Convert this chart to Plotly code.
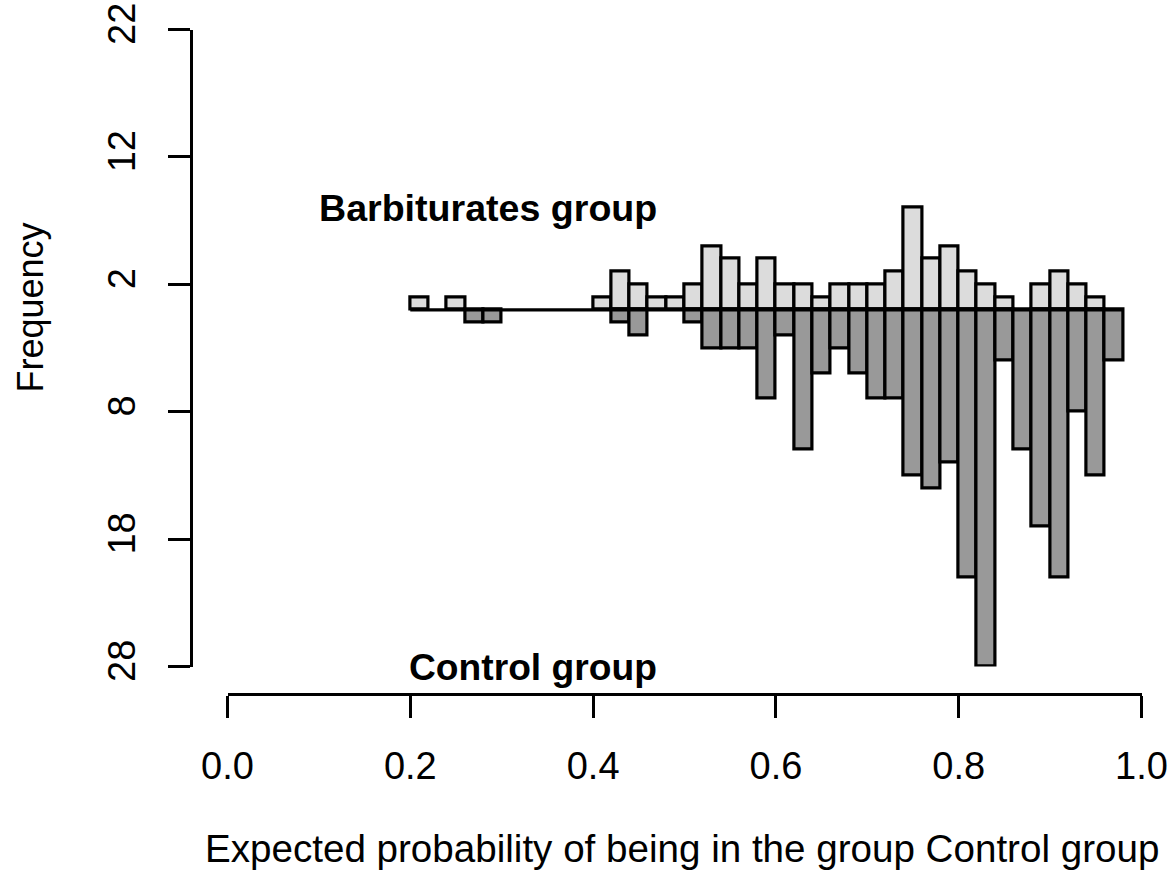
import plotly.graph_objects as go

# Histogram bins: left edges, common width
bin_width = 0.02
bin_left = [round(0.20 + i * bin_width, 2) for i in range(39)]

# Counts per bin for each group
barbiturates_counts = [1, 0, 1, 0, 0, 0, 0, 0, 0, 0,
                       1, 3, 2, 1, 1, 2, 5, 4, 2, 4,
                       2, 2, 1, 2, 2, 2, 3, 8, 4, 5,
                       3, 2, 1, 0, 2, 3, 2, 1, 0]
control_counts = [0, 0, 0, 1, 1, 0, 0, 0, 0, 0,
                  0, 1, 2, 0, 0, 1, 3, 3, 3, 7,
                  2, 11, 5, 3, 5, 7, 7, 13, 14, 12,
                  21, 28, 4, 11, 17, 21, 8, 13, 4]

# Axis ticks
x_tickvals = [0.0, 0.2, 0.4, 0.6, 0.8, 1.0]
x_ticktext = ["0.0", "0.2", "0.4", "0.6", "0.8", "1.0"]
y_tickvals = [22, 12, 2, -8, -18, -28]
y_ticktext = ["22", "12", "2", "8", "18", "28"]

W, H = 1168, 872
FONT = "Liberation Sans, Arial, sans-serif"
TICK_FS = 38
LW = 3.2

centers = [round(b + bin_width / 2, 3) for b in bin_left]
up = [c if c > 0 else None for c in barbiturates_counts]
down = [-c if c > 0 else None for c in control_counts]

fig = go.Figure()
fig.add_trace(go.Bar(
    x=centers, y=up, width=bin_width, base=0,
    marker=dict(color="#dcdcdc", line=dict(color="black", width=LW)),
    cliponaxis=False, showlegend=False, hoverinfo="x+y",
))
fig.add_trace(go.Bar(
    x=centers, y=down, width=bin_width, base=0,
    marker=dict(color="#999999", line=dict(color="black", width=LW)),
    cliponaxis=False, showlegend=False, hoverinfo="x+y",
))
# Zero line across the binned range
fig.add_trace(go.Scatter(
    x=[bin_left[0], bin_left[-1] + bin_width], y=[0, 0],
    mode="lines", line=dict(color="black", width=LW),
    cliponaxis=False, showlegend=False, hoverinfo="skip",
))

# Pixel geometry of the axes
x0_px, x1_px = 227.5, 1141.5
y_top_px, y_bot_px = 29.5, 666.5
xaxis_line_px = 694
yaxis_line_px = 191

fig.update_layout(
    template="none",
    width=W, height=H, autosize=False,
    margin=dict(l=0, r=0, t=0, b=0, pad=0),
    paper_bgcolor="white", plot_bgcolor="white",
    barmode="overlay", bargap=0,
    font=dict(family=FONT, size=TICK_FS, color="black"),
    xaxis=dict(
        domain=[x0_px / W, x1_px / W], range=[0, 1],
        anchor="free", position=(H - xaxis_line_px) / H,
        automargin=False,
        showline=True, linewidth=LW, linecolor="black",
        ticks="outside", ticklen=22, tickwidth=LW, tickcolor="black",
        tickvals=x_tickvals, ticktext=x_ticktext,
        ticklabelstandoff=15,
        showgrid=False, zeroline=False,
        tickfont=dict(family=FONT, size=TICK_FS, color="black"),
    ),
    yaxis=dict(
        domain=[(H - y_bot_px) / H, (H - y_top_px) / H], range=[-28, 22],
        anchor="free", position=yaxis_line_px / W,
        automargin=False,
        showline=True, linewidth=LW, linecolor="black",
        ticks="outside", ticklen=22, tickwidth=LW, tickcolor="black",
        tickvals=y_tickvals, ticktext=y_ticktext, tickangle=-90,
        ticklabelstandoff=18,
        showgrid=False, zeroline=False,
        tickfont=dict(family=FONT, size=TICK_FS, color="black"),
    ),
    annotations=[
        dict(text="<b>Barbiturates group</b>", x=0.472, y=8, xref="x", yref="y",
             xanchor="right", yanchor="middle", showarrow=False,
             font=dict(family=FONT, size=37.6, color="black")),
        dict(text="<b>Control group</b>", x=0.472, y=-28, xref="x", yref="y",
             xanchor="right", yanchor="middle", showarrow=False,
             font=dict(family=FONT, size=37.2, color="black")),
        dict(text="Expected probability of being in the group Control group",
             x=681.5 / W, y=(H - 848) / H, xref="paper", yref="paper",
             xanchor="center", yanchor="middle", showarrow=False,
             font=dict(family=FONT, size=38.6, color="black")),
        dict(text="Frequency", x=30 / W, y=(H - 307.5) / H,
             xref="paper", yref="paper", textangle=-90,
             xanchor="center", yanchor="middle", showarrow=False,
             font=dict(family=FONT, size=36, color="black")),
    ],
)

fig.write_html("out.html")
